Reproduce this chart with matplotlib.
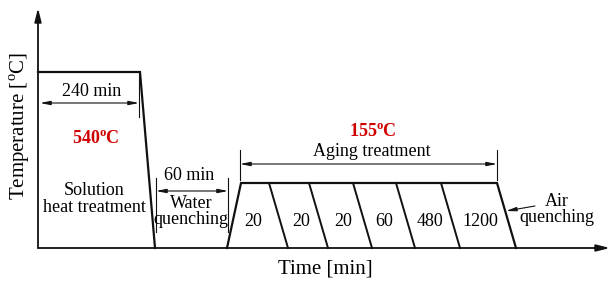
import matplotlib.pyplot as plt

plt.rcParams['font.family'] = ['Liberation Serif', 'DejaVu Serif']
plt.rcParams['mathtext.fontset'] = 'custom'
plt.rcParams['mathtext.rm'] = 'Liberation Serif'
plt.rcParams['mathtext.bf'] = 'Liberation Serif:bold'

# schematic profile (x: time units of the sketch, y: temperature units of the sketch)
sol_temp = 176
age_temp = 65
sol_x = [0, 102, 117]
sol_y = [sol_temp, sol_temp, 0]
age_x = [189, 203, 459, 478]
age_y = [0, age_temp, age_temp, 0]

# aging batches, dividers slant down to the right
divider_top = [231, 271, 315, 358, 403]
slant = 19
batch_labels = ["20", "20", "20", "60", "480", "1200"]
batch_x = [215, 263, 305, 346, 392, 442]

x_end = 572
y_end = 240

fig = plt.figure(figsize=(6.12, 2.84), dpi=100)
ax = fig.add_axes([0, 0, 1, 1])
ax.set_xlim(-38, 574)
ax.set_ylim(-36, 248)
ax.axis('off')

black = '#111111'
red = '#d00000'

# axes with arrows
ax.annotate('', xy=(0, y_end), xytext=(0, 0),
            arrowprops=dict(arrowstyle='-|>,head_length=0.8,head_width=0.2', lw=1.3, color=black, shrinkA=0, shrinkB=0))
ax.annotate('', xy=(x_end, 0), xytext=(0, 0),
            arrowprops=dict(arrowstyle='-|>,head_length=0.8,head_width=0.2', lw=1.3, color=black, shrinkA=0, shrinkB=0))

# temperature profile
ax.plot(sol_x, sol_y, color=black, lw=1.6, solid_joinstyle='miter')
ax.plot(age_x, age_y, color=black, lw=1.6, solid_joinstyle='miter')
for xt in divider_top:
    ax.plot([xt, xt + slant], [age_temp, 0], color=black, lw=1.4)
for xl, lab in zip(batch_x, batch_labels):
    ax.text(xl, 27, lab, ha='center', va='center', fontsize=13)

dim = dict(arrowstyle='<|-|>,head_length=0.6,head_width=0.12', lw=0.8, color=black, shrinkA=0, shrinkB=0)

# 240 min
ax.plot([101, 101], [131, 176], color=black, lw=0.8)
ax.annotate('', xy=(2, 145), xytext=(101, 145), arrowprops=dim)
ax.text(54, 156, '240 min', ha='center', va='center', fontsize=13)
ax.text(58, 109, r'540$^{\mathbf{o}}$C', ha='center', va='center', fontsize=13,
        fontweight='bold', color=red)
ax.text(56, 49, 'Solution\nheat treatment', ha='center', va='center', fontsize=13, linespacing=0.95)

# 60 min water quenching
for xv in [118, 190]:
    ax.plot([xv, xv], [16, 70], color=black, lw=0.8)
ax.annotate('', xy=(118, 57), xytext=(190, 57), arrowprops=dim)
ax.text(151, 72, '60 min', ha='center', va='center', fontsize=13)
ax.text(153, 36.5, 'Water\nquenching', ha='center', va='center', fontsize=13, linespacing=0.95)

# aging treatment
for xv in [202, 459]:
    ax.plot([xv, xv], [68, 98], color=black, lw=0.8)
ax.annotate('', xy=(202, 84), xytext=(459, 84), arrowprops=dim)
ax.text(334, 96, 'Aging treatment', ha='center', va='center', fontsize=13)
ax.text(335, 116, r'155$^{\mathbf{o}}$C', ha='center', va='center', fontsize=13,
        fontweight='bold', color=red)

# air quenching
ax.annotate('', xy=(468, 37), xytext=(497, 42),
            arrowprops=dict(arrowstyle='-|>,head_length=0.6,head_width=0.12', lw=0.8, color=black, shrinkA=0, shrinkB=0))
ax.text(519, 38.5, 'Air\nquenching', ha='center', va='center', fontsize=13, linespacing=0.95)

# axis labels
ax.text(287, -21, 'Time [min]', ha='center', va='center', fontsize=15)
ax.text(-18, 122, r'Temperature [$^{\mathrm{o}}$C]', ha='center', va='center', fontsize=15, rotation=90)

fig.savefig('out.png', dpi=100)
